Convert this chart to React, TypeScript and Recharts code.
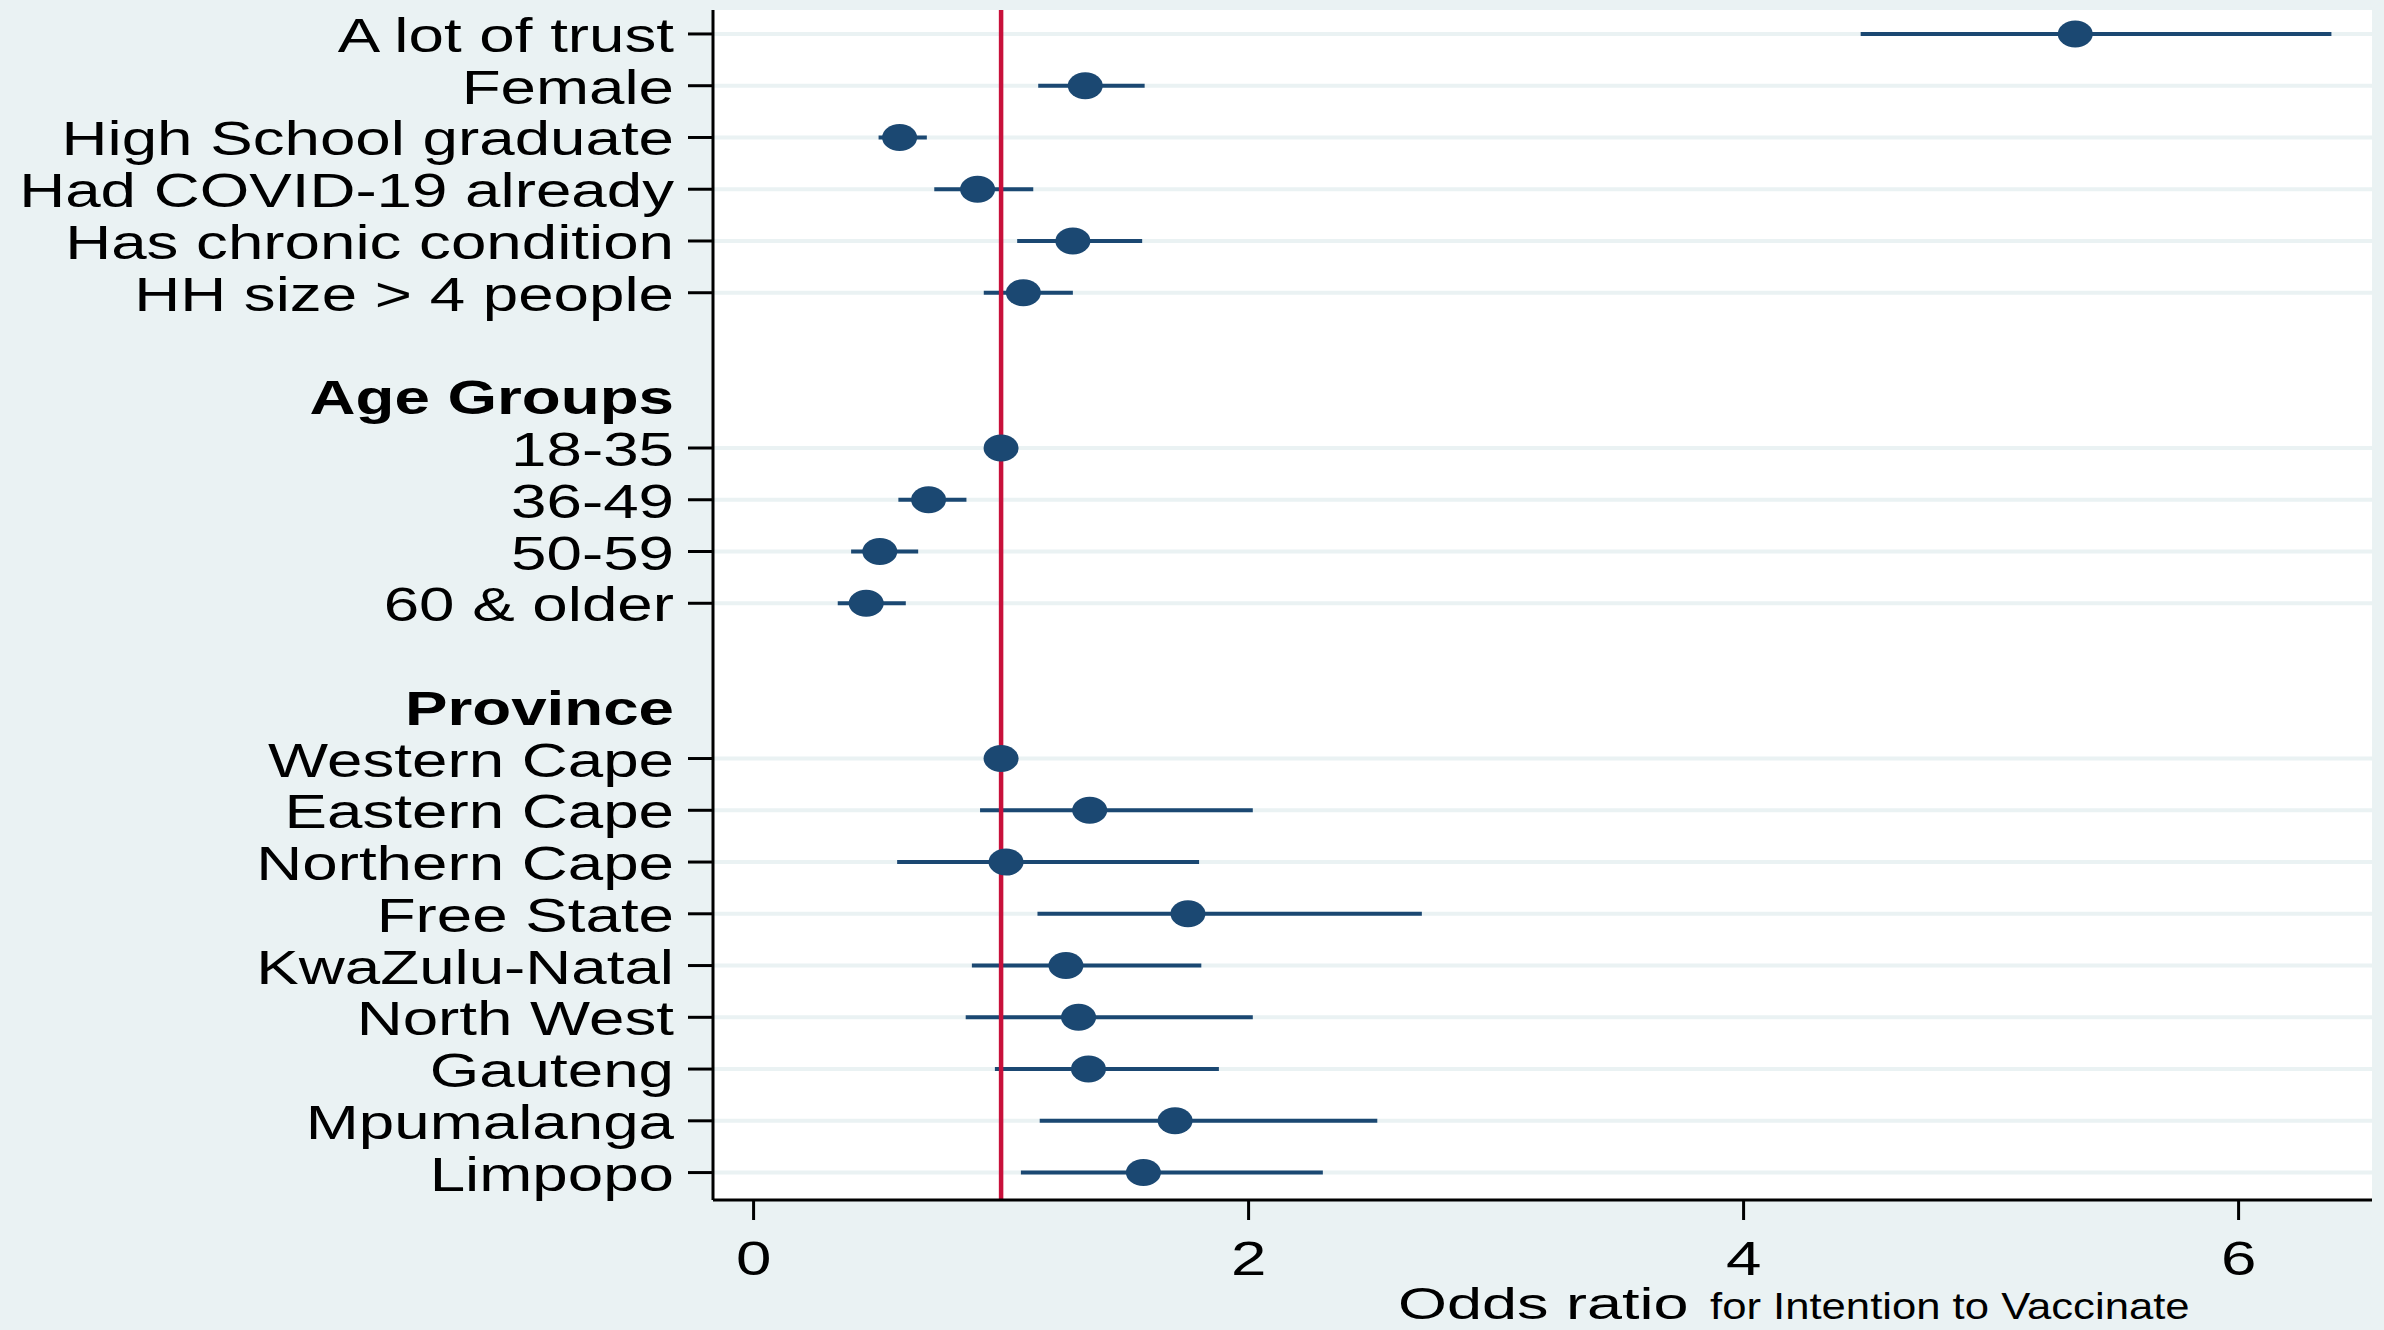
import { ScatterChart, Scatter, XAxis, YAxis, CartesianGrid, ReferenceLine, ErrorBar } from "recharts";

// row labels top to bottom; "" = spacer row
const rowLabels = [
  "A lot of trust",
  "Female",
  "High School graduate",
  "Had COVID-19 already",
  "Has chronic condition",
  "HH size > 4 people",
  "",
  "Age Groups",
  "18-35",
  "36-49",
  "50-59",
  "60 & older",
  "",
  "Province",
  "Western Cape",
  "Eastern Cape",
  "Northern Cape",
  "Free State",
  "KwaZulu-Natal",
  "North West",
  "Gauteng",
  "Mpumalanga",
  "Limpopo",
];
const headerLabels = ["Age Groups", "Province"];

// odds ratios and 95% CI, aligned with rowLabels (null for spacer / header rows)
const oddsRatio = [5.34, 1.34, 0.59, 0.905, 1.29, 1.09, null, null, 1.0, 0.707, 0.51, 0.455, null, null, 1.0, 1.358, 1.02, 1.755, 1.262, 1.313, 1.353, 1.703, 1.575];
const ciLower = [4.473, 1.15, 0.505, 0.73, 1.065, 0.93, null, null, 1.0, 0.585, 0.394, 0.34, null, null, 1.0, 0.915, 0.58, 1.147, 0.882, 0.857, 0.975, 1.156, 1.08];
const ciUpper = [6.375, 1.58, 0.7, 1.13, 1.57, 1.29, null, null, 1.0, 0.86, 0.665, 0.615, null, null, 1.0, 2.017, 1.8, 2.7, 1.809, 2.017, 1.88, 2.52, 2.3];

const xTicks = [0, 2, 4, 6];

const BG = "#EAF2F3";
const NAVY = "#1B4872";
const RED = "#C8103A";
const FONT = "'Liberation Sans', Arial, sans-serif";

const data = oddsRatio
  .map((or, i) =>
    or === null
      ? null
      : { row: i, or, err: [or - (ciLower[i] as number), (ciUpper[i] as number) - or] }
  )
  .filter(Boolean) as { row: number; or: number; err: number[] }[];

const dataRows = data.map((d) => d.row);
const labelRows = rowLabels.map((l, i) => (l ? i : -1)).filter((i) => i >= 0);

const YTick = (props: any) => {
  const { x, y, payload } = props;
  const label = rowLabels[payload.value];
  const isHeader = headerLabels.includes(label);
  return (
    <g>
      {!isHeader && <line x1={x + 14} x2={x + 39} y1={y} y2={y} stroke="#000" strokeWidth={3} />}
      <text
        transform={`translate(${x},${y + 18}) scale(1.3,1)`}
        textAnchor="end"
        fontFamily={FONT}
        fontSize={49}
        fontWeight={isHeader ? "bold" : "normal"}
        fill="#000"
      >
        {label}
      </text>
    </g>
  );
};

const XTick = (props: any) => {
  const { x, y, payload } = props;
  return (
    <text
      transform={`translate(${x},${y + 55}) scale(1.3,1)`}
      textAnchor="middle"
      fontFamily={FONT}
      fontSize={49}
      fill="#000"
    >
      {payload.value}
    </text>
  );
};

const XTitle = (props: any) => {
  const { viewBox } = props;
  const baseY = viewBox.y + 119;
  return (
    <g>
      <text transform={`translate(${viewBox.x + 685},${baseY}) scale(1.4,1)`} fontFamily={FONT} fontSize={45} fill="#000">
        Odds ratio
      </text>
      <text transform={`translate(${viewBox.x + 997},${baseY}) scale(1.18,1)`} fontFamily={FONT} fontSize={37} fill="#000">
        for Intention to Vaccinate
      </text>
    </g>
  );
};

const Marker = (props: any) => <ellipse cx={props.cx} cy={props.cy} rx={17.5} ry={13.5} fill={NAVY} />;

export default function App() {
  return (
    <div style={{ position: "absolute", left: 0, top: 0, width: 2384, height: 1330, background: BG }}>
      <ScatterChart width={2384} height={1330} margin={{ top: 10, right: 12, bottom: 0, left: 0 }}>
        <CartesianGrid fill="#ffffff" fillOpacity={1} stroke="none" horizontal={false} vertical={false} />
        {dataRows.map((r) => (
          <ReferenceLine key={r} y={r} stroke={BG} strokeWidth={4} zIndex={-50} />
        ))}
        <XAxis
          type="number"
          dataKey="or"
          domain={[-0.164, 6.539]}
          allowDataOverflow
          ticks={xTicks}
          interval={0}
          height={130}
          tickSize={20}
          tickMargin={0}
          tickLine={{ stroke: "#000", strokeWidth: 3 }}
          axisLine={{ stroke: "#000", strokeWidth: 3 }}
          tick={<XTick />}
          label={<XTitle />}
        />
        <YAxis
          type="number"
          dataKey="row"
          domain={[-0.463, 22.53]}
          allowDataOverflow
          reversed
          ticks={labelRows}
          interval={0}
          width={713}
          tickSize={25}
          tickMargin={14}
          tickLine={false}
          axisLine={{ stroke: "#000", strokeWidth: 3 }}
          tick={<YTick />}
        />
        <Scatter data={data} shape={() => <g />} isAnimationActive={false} zIndex={300}>
          <ErrorBar dataKey="err" direction="x" width={0} stroke={NAVY} strokeWidth={4} isAnimationActive={false} />
        </Scatter>
        <ReferenceLine x={1} stroke={RED} strokeWidth={4.5} zIndex={400} />
        <Scatter data={data} shape={<Marker />} isAnimationActive={false} zIndex={600} />
      </ScatterChart>
    </div>
  );
}
